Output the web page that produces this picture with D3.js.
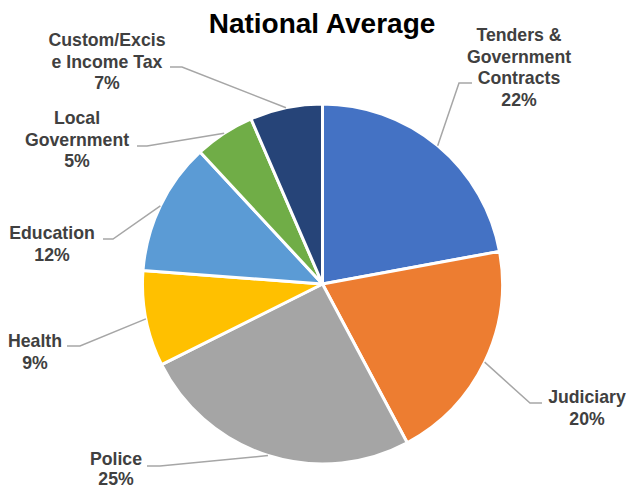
<!DOCTYPE html>
<html>
<head>
<meta charset="utf-8">
<script src="https://cdn.jsdelivr.net/npm/d3@7"></script>
<style>
  body { margin: 0; background: #fff; }
  svg { display: block; font-family: "Liberation Sans", Arial, sans-serif; }
</style>
</head>
<body>
<svg id="pie-chart" width="631" height="489"></svg>
<script>
// chart data (shares; labels show them rounded)
const categories = ["Tenders & Government Contracts", "Judiciary", "Police", "Health", "Education", "Local Government", "Custom/Excise Income Tax"];
const values = [22.1, 20.1, 25.4, 8.6, 11.9, 5.4, 6.5];
const labelLines = [
    ["Tenders &", "Government", "Contracts"],
    ["Judiciary"],
    ["Police"],
    ["Health"],
    ["Education"],
    ["Local", "Government"],
    ["Custom/Excis", "e Income Tax"]
];
const colors = ["#4472C4", "#ED7D31", "#A5A5A5", "#FFC000", "#5B9BD5", "#70AD47", "#264478"];

// where each data label sits (x = text centre, y = first baseline) and its leader elbow
const labelLayout = [
    {x: 519, y: 41, lh: 21.5, elbow: [459, 83], end: [472, 83]},
    {x: 587, y: 403, lh: 21.5, elbow: [530, 403], end: [542, 403]},
    {x: 116, y: 465, lh: 19.5, elbow: [160, 466], end: [147, 466]},
    {x: 35, y: 347, lh: 21.5, elbow: [80, 346], end: [67, 346]},
    {x: 52, y: 239, lh: 21.5, elbow: [113, 239], end: [103, 239]},
    {x: 77, y: 124, lh: 21.5, elbow: [147, 146], end: [137, 146]},
    {x: 107, y: 46, lh: 21.5, elbow: [182, 67], end: [170, 67]}
];

var svg = d3.select("#pie-chart");
var center = {x: 322.5, y: 284};
var radius = 180;

svg.append("text")
    .attr("x", 322)
    .attr("y", 33)
    .attr("text-anchor", "middle")
    .attr("font-size", "28px")
    .attr("font-weight", "bold")
    .attr("fill", "#000")
    .text("National Average");

var data = categories.map(function (c, i) {
    return {name: c, value: values[i], i: i};
});
var total = d3.sum(values);

var pie = d3.pie().sort(null).value(function (d) { return d.value; });
var arc = d3.arc().innerRadius(0).outerRadius(radius);
var arcs = pie(data);

var pieGrp = svg.append("g")
    .attr("transform", "translate(" + center.x + "," + center.y + ")");

pieGrp.selectAll("path")
    .data(arcs)
    .enter()
    .append("path")
    .attr("d", arc)
    .attr("fill", function (d) { return colors[d.data.i]; })
    .attr("stroke", "#fff")
    .attr("stroke-width", 3)
    .attr("stroke-linejoin", "round");

// leader lines, from outer edge at slice mid-angle
svg.append("g").selectAll("polyline")
    .data(arcs)
    .enter()
    .append("polyline")
    .attr("points", function (d) {
        var a = (d.startAngle + d.endAngle) / 2;
        var px = center.x + radius * Math.sin(a);
        var py = center.y - radius * Math.cos(a);
        var lay = labelLayout[d.data.i];
        return [[px, py], lay.elbow, lay.end].map(function (p) { return p.join(","); }).join(" ");
    })
    .attr("fill", "none")
    .attr("stroke", "#A6A6A6")
    .attr("stroke-width", 1.5);

var labels = svg.append("g").selectAll("text")
    .data(arcs)
    .enter()
    .append("text")
    .attr("text-anchor", "middle")
    .attr("font-size", "17.7px")
    .attr("font-weight", "bold")
    .attr("fill", "#404040");

labels.each(function (d) {
    var lay = labelLayout[d.data.i];
    var pct = Math.round(d.data.value / total * 100) + "%";
    var lines = labelLines[d.data.i].concat([pct]);
    var t = d3.select(this);
    lines.forEach(function (l, k) {
        t.append("tspan")
            .attr("x", lay.x)
            .attr("y", lay.y + k * lay.lh)
            .text(l);
    });
});
</script>
</body>
</html>
